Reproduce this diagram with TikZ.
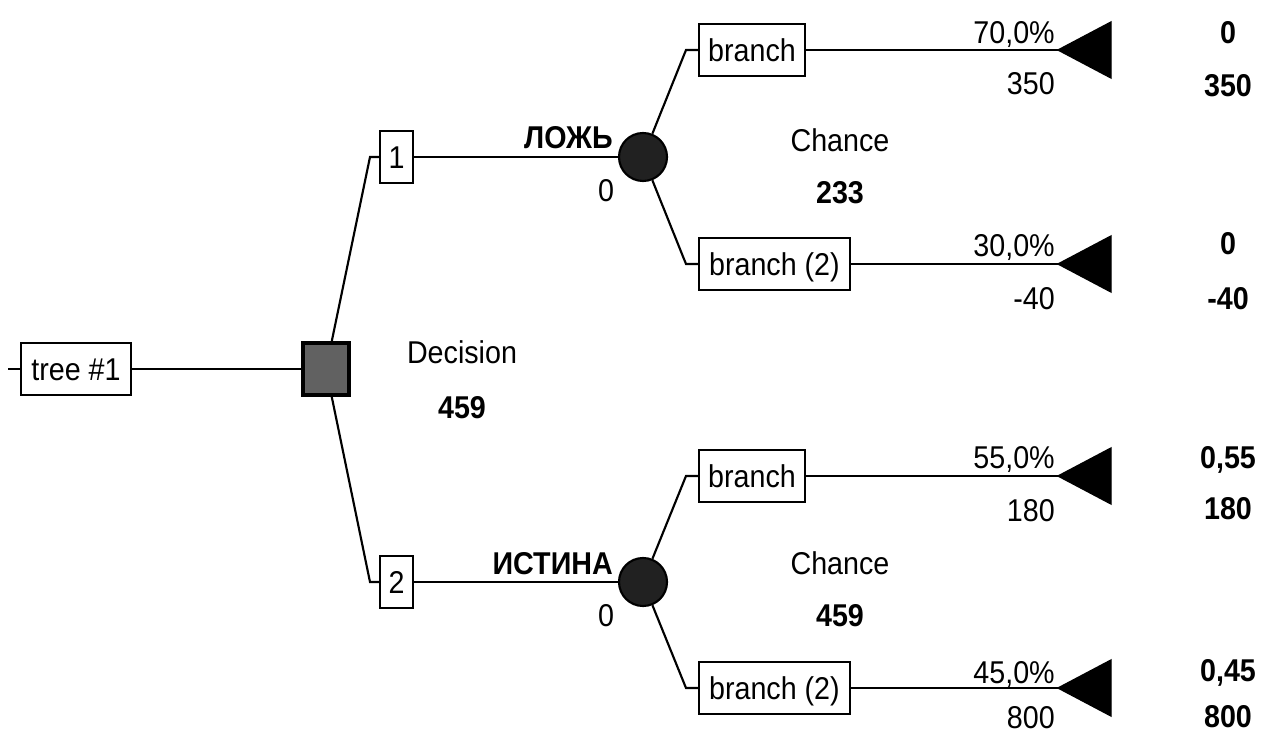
\documentclass[tikz,border=0pt]{standalone}
\usepackage{fontspec}
\setmainfont{Liberation Sans}
\usepackage{graphicx}
\newcommand\vs[1]{\scalebox{1}[1.1]{#1}}
\begin{document}
\begin{tikzpicture}[x=0.75pt,y=-0.75pt,
  every node/.style={font=\fontsize{21.5}{24}\selectfont},
  conn/.style={line width=1.6pt},
  lbl/.style={inner sep=0pt,text height=17pt,text depth=0pt},
  bx/.style={draw,line width=1.6pt,fill=white,inner sep=0pt,minimum height=39pt,text height=17pt,text depth=0pt},
  dec/.style={draw,line width=3pt,fill=black!62,minimum width=34.5pt,minimum height=39pt,inner sep=0pt},
  chn/.style={circle,draw,line width=1.6pt,fill=black!87,minimum size=36pt,inner sep=0pt},
  term/.style={fill=black,draw,line width=1pt,line join=miter}]
\useasboundingbox (0,0) rectangle (1271,734);
% root
\coordinate (start) at (8,369);
\node[bx,minimum width=82pt] (tree) at (76,369) {\vs{tree \#1}};
\node[dec] (sq) at (326,369) {};
\draw[conn] (start) -- (tree.west);
\draw[conn] (tree.east) -- (sq.west);
\node[lbl] (decl) at (462,352) {\vs{Decision}};
\node[lbl,font=\fontsize{21.5}{24}\selectfont\bfseries] (decv) at (462,407) {\vs{459}};
% decision branches
\coordinate (k1) at (370,157);
\coordinate (k2) at (370,582);
\node[bx,minimum width=24.75pt] (b1) at (396.5,157) {\vs{1}};
\node[bx,minimum width=24.75pt] (b2) at (396.5,582) {\vs{2}};
\draw[conn] (sq) -- (k1) -- (b1.west);
\draw[conn] (sq) -- (k2) -- (b2.west);
\node[chn] (c1) at (643,157) {};
\node[chn] (c2) at (643,582) {};
\draw[conn] (b1.east) -- (c1.west);
\draw[conn] (b2.east) -- (c2.west);
\node[lbl,anchor=east,font=\fontsize{21.5}{24}\selectfont\bfseries] (l1) at (613,137) {\vs{ЛОЖЬ}};
\node[lbl] (z1) at (606,190) {\vs{0}};
\node[lbl,anchor=east,font=\fontsize{21.5}{24}\selectfont\bfseries] (l2) at (613,563) {\vs{ИСТИНА}};
\node[lbl] (z2) at (606,615) {\vs{0}};
\node[lbl] (ch1) at (840,140) {\vs{Chance}};
\node[lbl,font=\fontsize{21.5}{24}\selectfont\bfseries] (cv1) at (840,192) {\vs{233}};
\node[lbl] (ch2) at (840,563) {\vs{Chance}};
\node[lbl,font=\fontsize{21.5}{24}\selectfont\bfseries] (cv2) at (840,615) {\vs{459}};
% chance branches
\coordinate (q1) at (686,50);
\coordinate (q2) at (686,264);
\coordinate (q3) at (686,476);
\coordinate (q4) at (686,688);
\node[bx,anchor=west,minimum width=79.5pt] (r1) at (698,50) {\vs{branch}};
\node[bx,anchor=west,minimum width=113pt] (r2) at (698,264) {\vs{branch (2)}};
\node[bx,anchor=west,minimum width=79.5pt] (r3) at (698,476) {\vs{branch}};
\node[bx,anchor=west,minimum width=113pt] (r4) at (698,688) {\vs{branch (2)}};
\draw[conn] (c1) -- (q1) -- (r1.west);
\draw[conn] (c1) -- (q2) -- (r2.west);
\draw[conn] (c2) -- (q3) -- (r3.west);
\draw[conn] (c2) -- (q4) -- (r4.west);
% terminals
\foreach \n/\y in {1/50,2/264,3/476,4/688}{
  \coordinate (t\n) at (1058,\y);
  \draw[term] (t\n) -- ++(53,-28) -- ++(0,56) -- cycle;
}
\draw[conn] (r1.east) -- (t1);
\draw[conn] (r2.east) -- (t2);
\draw[conn] (r3.east) -- (t3);
\draw[conn] (r4.east) -- (t4);
% probabilities and payoffs
\node[lbl,anchor=east] (p1) at (1055,32) {\vs{70,0\%}};
\node[lbl,anchor=east] (v1) at (1055,83) {\vs{350}};
\node[lbl,anchor=east] (p2) at (1055,245) {\vs{30,0\%}};
\node[lbl,anchor=east] (v2) at (1055,298) {\vs{-40}};
\node[lbl,anchor=east] (p3) at (1055,457) {\vs{55,0\%}};
\node[lbl,anchor=east] (v3) at (1055,510) {\vs{180}};
\node[lbl,anchor=east] (p4) at (1055,672) {\vs{45,0\%}};
\node[lbl,anchor=east] (v4) at (1055,717) {\vs{800}};
% results
\begin{scope}[every node/.style={lbl,font=\fontsize{21.5}{24}\selectfont\bfseries}]
\node (w1) at (1228,32) {\vs{0}};
\node (x1) at (1228,85) {\vs{350}};
\node (w2) at (1228,243) {\vs{0}};
\node (x2) at (1228,298) {\vs{-40}};
\node (w3) at (1228,457) {\vs{0,55}};
\node (x3) at (1228,508) {\vs{180}};
\node (w4) at (1228,670) {\vs{0,45}};
\node (x4) at (1228,716) {\vs{800}};
\end{scope}
\end{tikzpicture}
\end{document}
